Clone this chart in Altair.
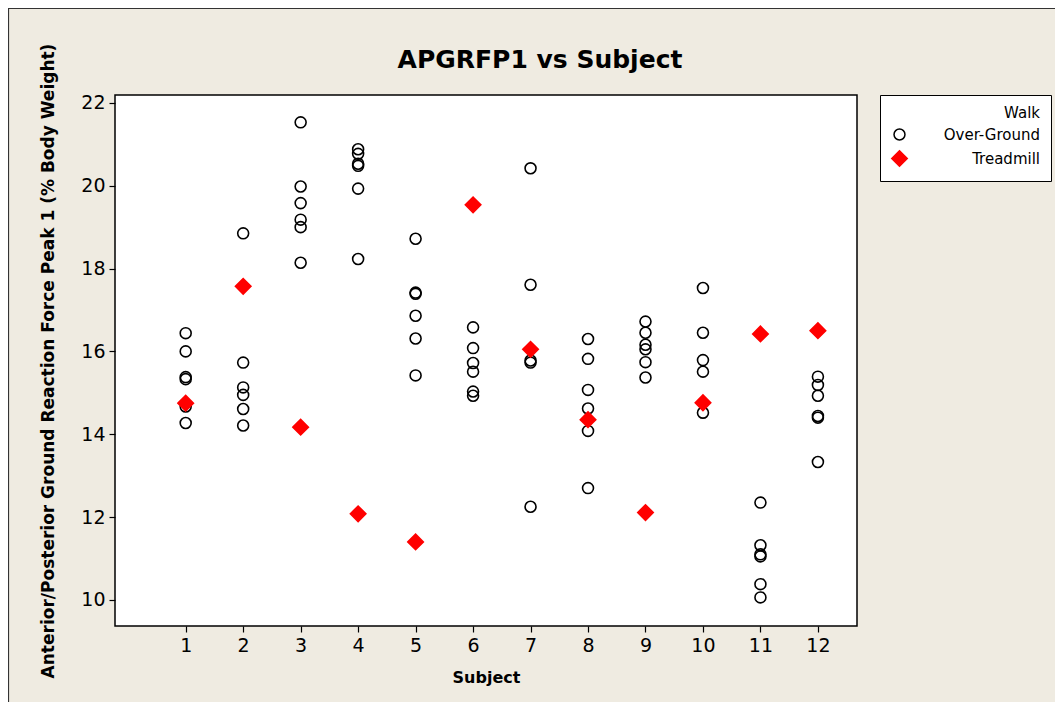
import altair as alt
import pandas as pd

# Over-Ground walks (subject, value)
og_subject = [1]*6 + [2]*6 + [3]*6 + [4]*6 + [5]*6 + [6]*6 + [7]*5 + [8]*6 + [9]*6 + [10]*5 + [11]*6 + [12]*6
og_value = [
    16.44, 16.00, 15.38, 15.33, 14.67, 14.27,
    18.85, 15.73, 15.13, 14.95, 14.61, 14.21,
    21.53, 19.98, 19.58, 19.18, 19.00, 18.14,
    20.88, 20.77, 20.53, 20.48, 19.93, 18.23,
    18.72, 17.42, 17.39, 16.86, 16.31, 15.42,
    16.58, 16.08, 15.72, 15.51, 15.03, 14.93,
    20.42, 17.61, 15.78, 15.73, 12.25,
    16.30, 15.82, 15.07, 14.62, 14.08, 12.70,
    16.72, 16.45, 16.16, 16.05, 15.74, 15.37,
    17.53, 16.45, 15.79, 15.51, 14.52,
    12.35, 11.32, 11.10, 11.05, 10.38, 10.06,
    15.39, 15.19, 14.93, 14.44, 14.40, 13.33,
]
# Treadmill walks
tm_subject = [1, 2, 3, 4, 5, 6, 7, 8, 9, 10, 11, 12]
tm_value = [14.75, 17.57, 14.17, 12.08, 11.40, 19.54, 16.05, 14.35, 12.11, 14.76, 16.42, 16.50]

walk_levels = ["Over-Ground", "Treadmill"]
x_ticks = list(range(1, 13))
y_ticks = [10, 12, 14, 16, 18, 20, 22]
chart_title = "APGRFP1 vs Subject"

df = pd.concat([
    pd.DataFrame({"Subject": og_subject, "Value": og_value, "Walk": walk_levels[0]}),
    pd.DataFrame({"Subject": tm_subject, "Value": tm_value, "Walk": walk_levels[1]}),
], ignore_index=True)

FONT = "DejaVu Sans"

points = alt.Chart(df).mark_point(strokeWidth=1.6, opacity=1).encode(
    x=alt.X("Subject:Q",
            scale=alt.Scale(domain=[-0.23, 12.68], nice=False, zero=False),
            axis=alt.Axis(values=x_ticks, title="Subject", grid=False)),
    y=alt.Y("Value:Q",
            scale=alt.Scale(domain=[9.37, 22.19], nice=False, zero=False),
            axis=alt.Axis(values=y_ticks, grid=False,
                          title="Anterior/Posterior Ground Reaction Force Peak 1 (% Body Weight)")),
    shape=alt.Shape("Walk:N", scale=alt.Scale(domain=walk_levels, range=["circle", "diamond"]),
                    legend=alt.Legend(title="Walk")),
    stroke=alt.Stroke("Walk:N", scale=alt.Scale(domain=walk_levels, range=["#000000", "#ff0000"]),
                      legend=alt.Legend(title="Walk")),
    fill=alt.Fill("Walk:N", scale=alt.Scale(domain=walk_levels, range=["rgba(0,0,0,0)", "#ff0000"]),
                  legend=alt.Legend(title="Walk")),
    size=alt.Size("Walk:N", scale=alt.Scale(domain=walk_levels, range=[120, 240]),
                  legend=alt.Legend(title="Walk")),
)

border = alt.Chart(alt.Data(values=[{"a": 1}])).mark_rect(
    fill="transparent", stroke="#333333", strokeWidth=1.2, clip=False
).encode(
    x=alt.value(-106.5), x2=alt.value(1200), y=alt.value(-86.5), y2=alt.value(800)
)

title = alt.Chart(alt.Data(values=[{"t": chart_title}])).mark_text(
    font=FONT, fontSize=25, fontWeight="bold", color="#000000",
    align="center", baseline="middle", clip=False
).encode(
    text="t:N", x=alt.value(425), y=alt.value(-35)
)

chart = alt.layer(border, title, points).properties(
    width=742,
    height=531,
    autosize=alt.AutoSizeParams(type="none"),
    padding={"left": 107, "top": 87, "right": 198, "bottom": 76},
    background="#efebe1",
).configure_view(
    fill="white", stroke="#000000", strokeWidth=1.5
).configure_axis(
    domain=False, tickColor="#000000", tickSize=6, tickWidth=1.2,
    labelFont=FONT, labelFontSize=19, labelColor="#000000", labelPadding=4,
    titleFont=FONT, titleFontSize=16, titleFontWeight="bold", titleColor="#000000",
).configure_axisY(
    titlePadding=23, titleFontSize=17
).configure_axisX(
    titlePadding=14
).configure_legend(
    orient="none", legendX=765, legendY=0,
    strokeColor="#000000", fillColor="white", padding=11,
    titleFont=FONT, titleFontSize=15, titleFontWeight="normal", titleColor="#000000",
    titleAnchor="end", titlePadding=6,
    labelFont=FONT, labelFontSize=15, labelColor="#000000",
    labelAlign="right", labelOffset=132, rowPadding=4, labelLimit=300,
)

chart.save("out.html", embed_options={"renderer": "svg", "actions": False})
